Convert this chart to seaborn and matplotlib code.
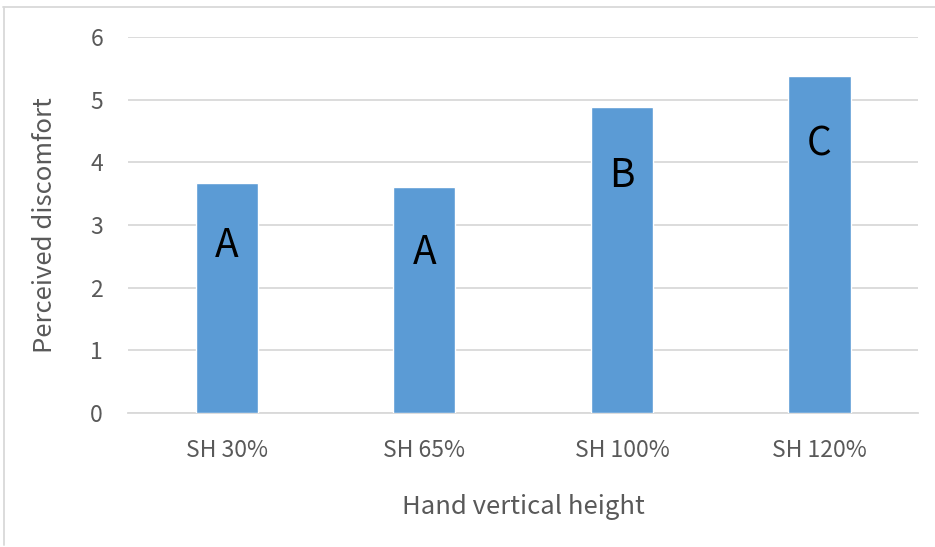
import matplotlib
matplotlib.use("Agg")
import matplotlib.pyplot as plt
from matplotlib.lines import Line2D
import seaborn as sns
import pandas as pd

# Mean perceived discomfort per hand height, with post-hoc grouping letters
heights = ["SH 30%", "SH 65%", "SH 100%", "SH 120%"]
discomfort = [3.67, 3.61, 4.88, 5.38]
groups = ["A", "A", "B", "C"]
group_label_y = [2.67, 2.56, 3.78, 4.28]
y_ticks = [0, 1, 2, 3, 4, 5, 6]

df = pd.DataFrame({"height": heights, "discomfort": discomfort})

sns.set_theme(style="white")
plt.rcParams["font.family"] = ["Noto Sans CJK KR", "DejaVu Sans"]

text_gray = "#595959"
grid_gray = "#d9d9d9"
bar_blue = "#5b9bd5"

fig = plt.figure(figsize=(9.35, 5.47), dpi=100)
ax = fig.add_axes([0.137, 0.245, 0.845, 0.687])

sns.barplot(data=df, x="height", y="discomfort", color=bar_blue,
            saturation=1, width=0.315, ax=ax, zorder=3)

ax.set_ylim(0, 6)
ax.set_yticks(y_ticks)
ax.set_xlim(-0.5, len(heights) - 0.5)
ax.yaxis.grid(True, color=grid_gray, linewidth=1.3, zorder=0)
ax.set_axisbelow(True)
for side in ["left", "right", "top"]:
    ax.spines[side].set_visible(False)
ax.spines["bottom"].set_color(grid_gray)
ax.spines["bottom"].set_linewidth(1.3)
ax.tick_params(axis="both", length=0, colors=text_gray, labelsize=16.5)
ax.tick_params(axis="y", pad=18)
ax.tick_params(axis="x", pad=19)

ax.set_xlabel("Hand vertical height", fontsize=18.5, color=text_gray, labelpad=23)
ax.set_ylabel("Perceived discomfort", fontsize=18.5, color=text_gray, labelpad=23)

for i, (g, gy) in enumerate(zip(groups, group_label_y)):
    ax.text(i, gy, g, ha="center", va="center", fontsize=28, color="black", zorder=4)

# Light frame around the chart area
fig.add_artist(Line2D([3 / 935, 1.0], [1 - 6.5 / 547] * 2, color=grid_gray, linewidth=1.3))
fig.add_artist(Line2D([3.5 / 935] * 2, [1 - 6.5 / 547, 1 - 545 / 547], color=grid_gray, linewidth=1.3))

fig.savefig("out.png", dpi=100)
